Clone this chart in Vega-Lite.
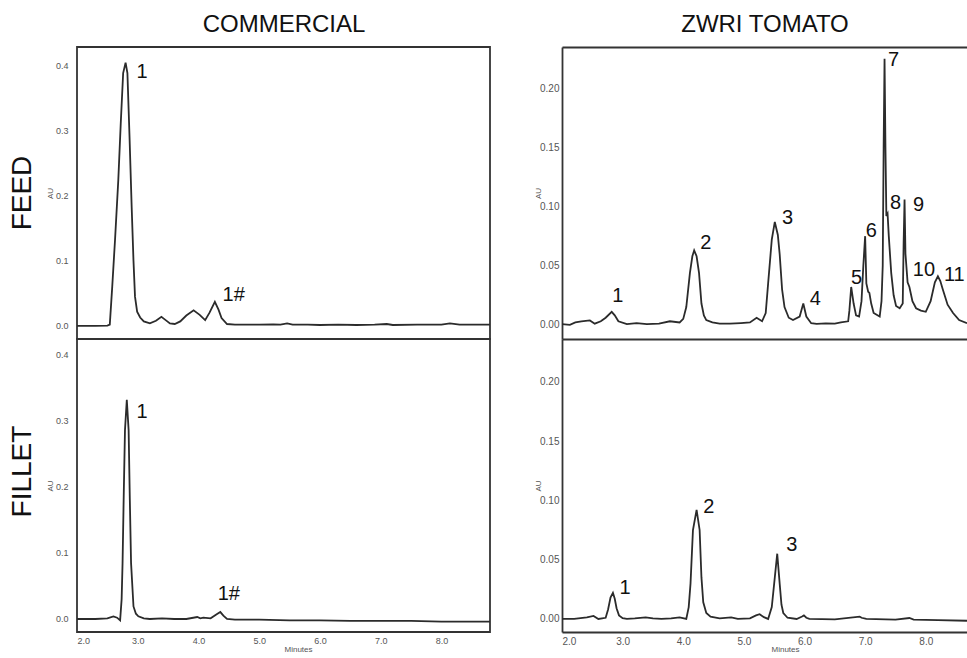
{
  "$schema": "https://vega.github.io/schema/vega-lite/v6.json",
  "autosize": {"type": "pad"},
  "padding": {"left": 8, "top": 11, "right": 0, "bottom": 0},
  "background": "white",
  "config": {
    "view": {"stroke": "#333", "strokeWidth": 1.8},
    "font": "Liberation Sans",
    "axis": {"labelFont": "Liberation Sans", "titleFont": "Liberation Sans", "grid": false},
    "title": {"font": "Liberation Sans"},
    "text": {"font": "Liberation Sans"},
    "line": {"color": "#2b2b2b", "strokeWidth": 1.8, "clip": true}
  },
  "datasets": {
    "lt": [
      {"t": 2.0, "v": 0.0}, {"t": 2.3, "v": 0.0}, {"t": 2.5, "v": 0.0005}, {"t": 2.54, "v": 0.002},
      {"t": 2.58, "v": 0.06}, {"t": 2.626, "v": 0.132}, {"t": 2.68, "v": 0.224}, {"t": 2.72, "v": 0.31},
      {"t": 2.76, "v": 0.388}, {"t": 2.8, "v": 0.404}, {"t": 2.83, "v": 0.388}, {"t": 2.865, "v": 0.29},
      {"t": 2.9, "v": 0.183}, {"t": 2.93, "v": 0.1}, {"t": 2.955, "v": 0.045}, {"t": 2.99, "v": 0.022},
      {"t": 3.04, "v": 0.013}, {"t": 3.1, "v": 0.007}, {"t": 3.2, "v": 0.004}, {"t": 3.3, "v": 0.008},
      {"t": 3.39, "v": 0.014}, {"t": 3.46, "v": 0.009}, {"t": 3.53, "v": 0.004}, {"t": 3.61, "v": 0.003},
      {"t": 3.7, "v": 0.007}, {"t": 3.8, "v": 0.016}, {"t": 3.92, "v": 0.024}, {"t": 4.02, "v": 0.017},
      {"t": 4.11, "v": 0.009}, {"t": 4.18, "v": 0.02}, {"t": 4.27, "v": 0.037}, {"t": 4.33, "v": 0.025},
      {"t": 4.38, "v": 0.012}, {"t": 4.47, "v": 0.003}, {"t": 4.6, "v": 0.002}, {"t": 4.8, "v": 0.002},
      {"t": 5.0, "v": 0.002}, {"t": 5.23, "v": 0.0025}, {"t": 5.35, "v": 0.002}, {"t": 5.46, "v": 0.004},
      {"t": 5.55, "v": 0.002}, {"t": 5.8, "v": 0.002}, {"t": 6.0, "v": 0.0015}, {"t": 6.3, "v": 0.002},
      {"t": 6.6, "v": 0.0015}, {"t": 6.9, "v": 0.002}, {"t": 7.1, "v": 0.003}, {"t": 7.2, "v": 0.0015},
      {"t": 7.6, "v": 0.002}, {"t": 8.0, "v": 0.002}, {"t": 8.14, "v": 0.004}, {"t": 8.3, "v": 0.002},
      {"t": 8.8, "v": 0.002}
    ],
    "lb": [
      {"t": 2.0, "v": 0.0}, {"t": 2.3, "v": 0.0}, {"t": 2.5, "v": 0.001}, {"t": 2.6, "v": 0.004},
      {"t": 2.66, "v": 0.002}, {"t": 2.71, "v": -0.002}, {"t": 2.735, "v": 0.03}, {"t": 2.75, "v": 0.084},
      {"t": 2.77, "v": 0.19}, {"t": 2.79, "v": 0.286}, {"t": 2.82, "v": 0.332}, {"t": 2.85, "v": 0.286},
      {"t": 2.87, "v": 0.18}, {"t": 2.89, "v": 0.085}, {"t": 2.93, "v": 0.019}, {"t": 2.97, "v": 0.008},
      {"t": 3.01, "v": 0.004}, {"t": 3.1, "v": 0.001}, {"t": 3.2, "v": 0.0}, {"t": 3.4, "v": 0.001},
      {"t": 3.6, "v": 0.0}, {"t": 3.8, "v": 0.0}, {"t": 3.98, "v": 0.003}, {"t": 4.03, "v": 0.001},
      {"t": 4.08, "v": 0.002}, {"t": 4.2, "v": 0.001}, {"t": 4.3, "v": 0.007}, {"t": 4.36, "v": 0.0105},
      {"t": 4.41, "v": 0.005}, {"t": 4.47, "v": 0.0}, {"t": 4.6, "v": -0.001}, {"t": 5.0, "v": -0.001},
      {"t": 5.5, "v": -0.002}, {"t": 6.0, "v": -0.002}, {"t": 6.5, "v": -0.003}, {"t": 7.0, "v": -0.003},
      {"t": 7.5, "v": -0.003}, {"t": 8.0, "v": -0.004}, {"t": 8.8, "v": -0.004}
    ],
    "rt": [
      {"t": 2.0, "v": 0.0005}, {"t": 2.13, "v": 0.0}, {"t": 2.22, "v": 0.002}, {"t": 2.32, "v": 0.003},
      {"t": 2.46, "v": 0.0037}, {"t": 2.54, "v": 0.001}, {"t": 2.64, "v": 0.003}, {"t": 2.72, "v": 0.006},
      {"t": 2.82, "v": 0.011}, {"t": 2.87, "v": 0.008}, {"t": 2.93, "v": 0.003}, {"t": 3.07, "v": 0.0006},
      {"t": 3.23, "v": 0.0014}, {"t": 3.4, "v": 0.0006}, {"t": 3.6, "v": 0.001}, {"t": 3.78, "v": 0.003},
      {"t": 3.94, "v": 0.002}, {"t": 4.0, "v": 0.005}, {"t": 4.05, "v": 0.015}, {"t": 4.11, "v": 0.044},
      {"t": 4.15, "v": 0.058}, {"t": 4.18, "v": 0.063}, {"t": 4.22, "v": 0.058}, {"t": 4.26, "v": 0.044},
      {"t": 4.3, "v": 0.018}, {"t": 4.34, "v": 0.008}, {"t": 4.38, "v": 0.004}, {"t": 4.48, "v": 0.002},
      {"t": 4.6, "v": 0.001}, {"t": 4.77, "v": 0.001}, {"t": 4.95, "v": 0.0015}, {"t": 5.1, "v": 0.002},
      {"t": 5.21, "v": 0.006}, {"t": 5.3, "v": 0.003}, {"t": 5.36, "v": 0.01}, {"t": 5.4, "v": 0.035},
      {"t": 5.46, "v": 0.072}, {"t": 5.51, "v": 0.087}, {"t": 5.56, "v": 0.076}, {"t": 5.59, "v": 0.06},
      {"t": 5.63, "v": 0.03}, {"t": 5.67, "v": 0.015}, {"t": 5.74, "v": 0.006}, {"t": 5.81, "v": 0.004},
      {"t": 5.92, "v": 0.007}, {"t": 5.98, "v": 0.018}, {"t": 6.03, "v": 0.007}, {"t": 6.11, "v": 0.0014},
      {"t": 6.2, "v": 0.0008}, {"t": 6.35, "v": 0.0012}, {"t": 6.5, "v": 0.001}, {"t": 6.6, "v": 0.002},
      {"t": 6.72, "v": 0.003}, {"t": 6.74, "v": 0.012}, {"t": 6.77, "v": 0.032}, {"t": 6.81, "v": 0.018},
      {"t": 6.85, "v": 0.008}, {"t": 6.9, "v": 0.007}, {"t": 6.94, "v": 0.02}, {"t": 6.97, "v": 0.05},
      {"t": 7.0, "v": 0.075}, {"t": 7.02, "v": 0.035}, {"t": 7.05, "v": 0.028}, {"t": 7.07, "v": 0.027},
      {"t": 7.1, "v": 0.018}, {"t": 7.14, "v": 0.01}, {"t": 7.24, "v": 0.007}, {"t": 7.27, "v": 0.02},
      {"t": 7.29, "v": 0.05}, {"t": 7.305, "v": 0.15}, {"t": 7.32, "v": 0.225}, {"t": 7.335, "v": 0.15},
      {"t": 7.35, "v": 0.092}, {"t": 7.37, "v": 0.094}, {"t": 7.39, "v": 0.075}, {"t": 7.43, "v": 0.044},
      {"t": 7.47, "v": 0.025}, {"t": 7.51, "v": 0.016}, {"t": 7.57, "v": 0.014}, {"t": 7.62, "v": 0.018},
      {"t": 7.635, "v": 0.07}, {"t": 7.65, "v": 0.106}, {"t": 7.665, "v": 0.06}, {"t": 7.7, "v": 0.036},
      {"t": 7.73, "v": 0.032}, {"t": 7.78, "v": 0.02}, {"t": 7.84, "v": 0.014}, {"t": 7.92, "v": 0.012},
      {"t": 8.0, "v": 0.011}, {"t": 8.08, "v": 0.02}, {"t": 8.15, "v": 0.036}, {"t": 8.2, "v": 0.041},
      {"t": 8.24, "v": 0.037}, {"t": 8.28, "v": 0.03}, {"t": 8.36, "v": 0.017}, {"t": 8.45, "v": 0.01},
      {"t": 8.55, "v": 0.004}, {"t": 8.68, "v": 0.0014}
    ],
    "rb": [
      {"t": 2.0, "v": 0.0}, {"t": 2.2, "v": 0.0}, {"t": 2.41, "v": 0.0014}, {"t": 2.52, "v": 0.0025},
      {"t": 2.6, "v": 0.0}, {"t": 2.72, "v": 0.001}, {"t": 2.76, "v": 0.008}, {"t": 2.8, "v": 0.018},
      {"t": 2.84, "v": 0.022}, {"t": 2.87, "v": 0.017}, {"t": 2.9, "v": 0.009}, {"t": 2.94, "v": 0.003},
      {"t": 3.0, "v": 0.0006}, {"t": 3.07, "v": 0.0}, {"t": 3.2, "v": 0.0005}, {"t": 3.38, "v": 0.0014},
      {"t": 3.5, "v": 0.0005}, {"t": 3.64, "v": 0.0}, {"t": 3.8, "v": 0.0005}, {"t": 3.94, "v": 0.0014},
      {"t": 4.05, "v": 0.0}, {"t": 4.09, "v": 0.01}, {"t": 4.12, "v": 0.03}, {"t": 4.16, "v": 0.075},
      {"t": 4.22, "v": 0.092}, {"t": 4.27, "v": 0.075}, {"t": 4.3, "v": 0.035}, {"t": 4.33, "v": 0.014},
      {"t": 4.38, "v": 0.005}, {"t": 4.45, "v": 0.002}, {"t": 4.6, "v": 0.0005}, {"t": 4.79, "v": 0.0014},
      {"t": 4.9, "v": 0.0}, {"t": 5.1, "v": 0.0005}, {"t": 5.2, "v": 0.003}, {"t": 5.26, "v": 0.004},
      {"t": 5.33, "v": 0.0015}, {"t": 5.4, "v": 0.0}, {"t": 5.46, "v": 0.01}, {"t": 5.51, "v": 0.035},
      {"t": 5.55, "v": 0.055}, {"t": 5.59, "v": 0.03}, {"t": 5.62, "v": 0.012}, {"t": 5.65, "v": 0.005},
      {"t": 5.72, "v": 0.001}, {"t": 5.87, "v": 0.0}, {"t": 5.96, "v": 0.002}, {"t": 5.99, "v": 0.003},
      {"t": 6.03, "v": 0.001}, {"t": 6.08, "v": 0.0}, {"t": 6.5, "v": -0.0003}, {"t": 6.91, "v": 0.002},
      {"t": 6.94, "v": 0.001}, {"t": 7.02, "v": 0.0}, {"t": 7.5, "v": -0.0005}, {"t": 7.73, "v": 0.0008},
      {"t": 7.8, "v": -0.0005}, {"t": 8.2, "v": -0.001}, {"t": 8.68, "v": -0.0015}
    ],
    "ltl": [{"t": 3.07, "v": 0.39, "label": "1"}, {"t": 4.58, "v": 0.048, "label": "1#"}],
    "lbl": [{"t": 3.07, "v": 0.314, "label": "1"}, {"t": 4.5, "v": 0.038, "label": "1#"}],
    "rtl": [
      {"t": 2.92, "v": 0.024, "label": "1"}, {"t": 4.37, "v": 0.069, "label": "2"},
      {"t": 5.72, "v": 0.09, "label": "3"}, {"t": 6.18, "v": 0.022, "label": "4"},
      {"t": 6.86, "v": 0.04, "label": "5"}, {"t": 7.1, "v": 0.079, "label": "6"},
      {"t": 7.47, "v": 0.224, "label": "7"}, {"t": 7.5, "v": 0.103, "label": "8"},
      {"t": 7.88, "v": 0.101, "label": "9"}, {"t": 7.97, "v": 0.046, "label": "10"},
      {"t": 8.47, "v": 0.042, "label": "11"}
    ],
    "rbl": [
      {"t": 3.04, "v": 0.026, "label": "1"}, {"t": 4.42, "v": 0.0945, "label": "2"},
      {"t": 5.79, "v": 0.062, "label": "3"}
    ]
  },
  "columns": 2,
  "spacing": {"row": 0, "column": 72},
  "bounds": "flush",
  "concat": [
    {
      "width": 413, "height": 292,
      "title": {"text": "FEED", "orient": "left", "anchor": "middle", "fontSize": 28, "fontWeight": "normal", "color": "#111", "offset": 9},
      "encoding": {
        "x": {"field": "t", "type": "quantitative", "scale": {"domain": [2, 8.8], "nice": false, "zero": false},
          "axis": {"orient": "top", "labels": false, "ticks": false, "domain": false, "title": "COMMERCIAL", "titleFontSize": 24, "titleFontWeight": "normal", "titleColor": "#111", "titleBaseline": "alphabetic", "titleY": -16}},
        "y": {"field": "v", "type": "quantitative", "scale": {"domain": [-0.02, 0.428], "nice": false, "zero": false},
          "axis": {"title": "AU", "titleFontSize": 8, "titleFontWeight": "normal", "titleColor": "#555", "titleX": -23, "values": [0, 0.1, 0.2, 0.3, 0.4], "format": ".1f", "labelFontSize": 9, "labelColor": "#555", "labelPadding": 9, "ticks": false, "tickSize": 0, "domain": false}}
      },
      "layer": [
        {"data": {"name": "lt"}, "mark": {"type": "line"}, "encoding": {}},
        {"data": {"name": "ltl"}, "mark": {"type": "text", "fontSize": 20, "color": "#111"}, "encoding": {"text": {"field": "label"}}}
      ]
    },
    {
      "width": 405, "height": 292,
      "view": {"stroke": null},
      "encoding": {
        "y": {"field": "v", "type": "quantitative", "scale": {"domain": [-0.012, 0.235], "nice": false, "zero": false},
          "axis": {"title": "AU", "titleFontSize": 8, "titleFontWeight": "normal", "titleColor": "#555", "titleX": -20, "values": [0, 0.05, 0.1, 0.15, 0.2], "format": ".2f", "labelFontSize": 10, "labelColor": "#555", "labelPadding": 3, "ticks": false, "tickSize": 0, "domain": true, "domainColor": "#333", "domainWidth": 1.8}}
      },
      "resolve": {"axis": {"x": "independent"}},
      "layer": [
        {"data": {"name": "rt"}, "mark": {"type": "line"},
          "encoding": {"x": {"field": "t", "type": "quantitative", "scale": {"domain": [2, 8.68], "nice": false, "zero": false},
            "axis": {"orient": "top", "labels": false, "ticks": false, "domain": true, "domainColor": "#333", "domainWidth": 1.8, "title": "ZWRI TOMATO", "titleFontSize": 24, "titleFontWeight": "normal", "titleColor": "#111", "titleBaseline": "alphabetic", "titleY": -16}}}},
        {"data": {"name": "rtl"}, "mark": {"type": "text", "fontSize": 20, "color": "#111"},
          "encoding": {"x": {"field": "t", "type": "quantitative", "scale": {"domain": [2, 8.68], "nice": false, "zero": false},
            "axis": {"orient": "bottom", "labels": false, "ticks": false, "domain": true, "domainColor": "#333", "domainWidth": 1.8, "title": null}},
            "text": {"field": "label"}}}
      ]
    },
    {
      "width": 413, "height": 293,
      "title": {"text": "FILLET", "orient": "left", "anchor": "middle", "fontSize": 28, "fontWeight": "normal", "color": "#111", "offset": 9, "dx": 14},
      "encoding": {
        "x": {"field": "t", "type": "quantitative", "scale": {"domain": [2, 8.8], "nice": false, "zero": false},
          "axis": {"orient": "bottom", "values": [2, 3, 4, 5, 6, 7, 8], "format": ".1f", "labelFontSize": 9, "labelColor": "#555", "labelPadding": 4, "ticks": false, "tickSize": 0, "domain": false, "title": "Minutes", "titleFontSize": 8, "titleFontWeight": "normal", "titleColor": "#555", "titleX": 221, "titleY": 13, "titleBaseline": "top"}},
        "y": {"field": "v", "type": "quantitative", "scale": {"domain": [-0.0197, 0.424], "nice": false, "zero": false},
          "axis": {"title": "AU", "titleFontSize": 8, "titleFontWeight": "normal", "titleColor": "#555", "titleX": -23, "values": [0, 0.1, 0.2, 0.3, 0.4], "format": ".1f", "labelFontSize": 9, "labelColor": "#555", "labelPadding": 9, "ticks": false, "tickSize": 0, "domain": false}}
      },
      "layer": [
        {"data": {"name": "lb"}, "mark": {"type": "line"}, "encoding": {}},
        {"data": {"name": "lbl"}, "mark": {"type": "text", "fontSize": 20, "color": "#111"}, "encoding": {"text": {"field": "label"}}}
      ]
    },
    {
      "width": 405, "height": 293,
      "view": {"stroke": null},
      "encoding": {
        "x": {"field": "t", "type": "quantitative", "scale": {"domain": [2, 8.68], "nice": false, "zero": false},
          "axis": {"orient": "bottom", "values": [2, 3, 4, 5, 6, 7, 8], "format": ".1f", "labelFontSize": 10, "labelColor": "#555", "labelPadding": 4, "ticks": false, "tickSize": 0, "domain": true, "domainColor": "#333", "domainWidth": 1.8, "title": "Minutes", "titleFontSize": 8, "titleFontWeight": "normal", "titleColor": "#555", "titleX": 223, "titleY": 13, "titleBaseline": "top"}},
        "y": {"field": "v", "type": "quantitative", "scale": {"domain": [-0.011, 0.236], "nice": false, "zero": false},
          "axis": {"title": "AU", "titleFontSize": 8, "titleFontWeight": "normal", "titleColor": "#555", "titleX": -20, "values": [0, 0.05, 0.1, 0.15, 0.2], "format": ".2f", "labelFontSize": 10, "labelColor": "#555", "labelPadding": 3, "ticks": false, "tickSize": 0, "domain": true, "domainColor": "#333", "domainWidth": 1.8}}
      },
      "layer": [
        {"data": {"name": "rb"}, "mark": {"type": "line"}, "encoding": {}},
        {"data": {"name": "rbl"}, "mark": {"type": "text", "fontSize": 20, "color": "#111"}, "encoding": {"text": {"field": "label"}}}
      ]
    }
  ]
}
